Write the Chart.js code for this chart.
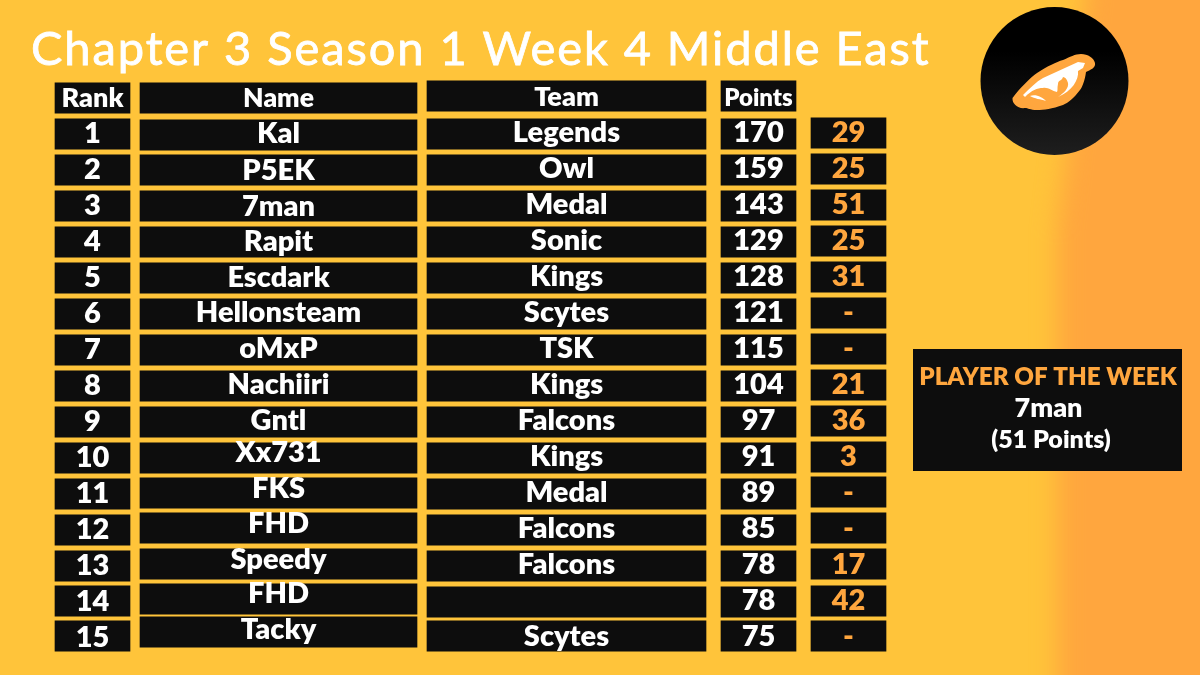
<!DOCTYPE html>
<html>
<head>
<meta charset="utf-8">
<title>Chapter 3 Season 1 Week 4 Middle East</title>
<script src="https://cdn.jsdelivr.net/npm/chart.js@4"></script>
<style>
  html, body { margin: 0; padding: 0; background: #ffc43a; }
  #wrap { width: 1200px; height: 675px; }
</style>
</head>
<body>
<div id="wrap"><canvas id="myChart" width="1200" height="675"></canvas></div>
<script>
// Table data
const titleText = "Chapter 3 Season 1 Week 4 Middle East";
const rowLabels = ["Rank", "1", "2", "3", "4", "5", "6", "7", "8", "9", "10", "11", "12", "13", "14", "15"];
const names = ["Name", "Kal", "P5EK", "7man", "Rapit", "Escdark", "Hellonsteam", "oMxP", "Nachiiri", "Gntl", "Xx731", "FKS", "FHD", "Speedy", "FHD", "Tacky"];
const teams = ["Team", "Legends", "Owl", "Medal", "Sonic", "Kings", "Scytes", "TSK", "Kings", "Falcons", "Kings", "Medal", "Falcons", "Falcons", "", "Scytes"];
const points = ["Points", "170", "159", "143", "129", "128", "121", "115", "104", "97", "91", "89", "85", "78", "78", "75"];
const weekPoints = [null, "29", "25", "51", "25", "31", "-", "-", "21", "36", "3", "-", "-", "17", "42", "-"];
const playerTitle = "PLAYER OF THE WEEK";
const playerName = "7man";
const playerPoints = "(51 Points)";

// Column extents on the x axis, and small per-row shifts of the pasted boxes
const BLACK = "#0d0d0d";
const ORANGE = "#ffa63e";
const columns = [
  { texts: rowLabels, from: 55, to: 130, color: "#fff", headSize: 27,
    boxShift: [0, 0, 0, 0, 0, 0, 0, 0, 0, 0, 0, 0, 0, 0, -1, -2],
    textShift: [0, -2, -2, -2, -2, -2, -2, -2, -2, -2, -2, -2, -2, -2, -2, -2] },
  { texts: names, from: 140, to: 417, color: "#fff", headSize: 26.5,
    boxShift: [0, 1, 0, 0, 0, 0, 0, 0, 0, 0, 0, -1, -2, -2, -3, -6],
    textShift: [0, -2, -1, -1, -2, -2, -3, -3, -3, -3, -7, -7, -8, -8, -10, -10] },
  { texts: teams, from: 427, to: 706, color: "#fff", headSize: 27,
    boxShift: [-2, 0, 0, 0, 0, 0, 0, 0, 0, 0, 0, 0, 0, 0, 0, -2],
    textShift: [-1, -3, -3, -3, -3, -3, -3, -3, -3, -3, -3, -3, -3, -3, -3, -3] },
  { texts: points, from: 721, to: 796, color: "#fff", headSize: 24,
    boxShift: [-2, 0, 0, 0, 0, 0, 0, 0, 0, 0, 0, 0, 0, 0, 0, -2],
    textShift: [-1, -3, -3, -3, -3, -3, -3, -3, -3, -3, -3, -3, -3, -3, -3, -3] },
  { texts: weekPoints, from: 811, to: 886, color: ORANGE, headSize: 24,
    boxShift: [0, -1, -1, -1, -1, -1, -1, -1, -1, -1, -1, -2, -2, -2, -1, -2],
    textShift: [0, -3, -3, -3, -3, -3, -3, -3, -3, -3, -3, -3, -3, -3, -3, -3] },
];
const FONT = '"Lato", sans-serif';

// Gradient background with the orange band on the right
const backdrop = {
  id: "backdrop",
  beforeDraw(chart) {
    const c = chart.ctx;
    c.save();
    c.fillStyle = "#ffc43a";
    c.fillRect(0, 0, 1200, 675);
    c.filter = "blur(12px)";
    c.fillStyle = ORANGE;
    c.beginPath();
    c.moveTo(1090, -40);
    c.lineTo(1260, -40);
    c.lineTo(1260, 715);
    c.lineTo(1057, 715);
    c.lineTo(1057, 230);
    c.closePath();
    c.fill();
    c.restore();
  },
};

// Move the boxes a little, they are not perfectly aligned in the original
const nudge = {
  id: "nudge",
  afterDatasetsUpdate(chart) {
    columns.forEach((col, d) => {
      chart.getDatasetMeta(d).data.forEach((bar, i) => {
        bar.y += col.boxShift[i];
      });
    });
  },
};

// Cell texts, title, player box and logo
const overlay = {
  id: "overlay",
  afterDatasetsDraw(chart) {
    const c = chart.ctx;
    const yScale = chart.scales.y;
    c.save();
    c.textAlign = "center";
    c.textBaseline = "alphabetic";

    columns.forEach((col) => {
      col.texts.forEach((text, i) => {
        if (!text) return;
        const x = (col.from + col.to) / 2;
        const y = yScale.getPixelForValue(i) + col.textShift[i];
        c.fillStyle = col.color;
        c.font = "800 " + (i === 0 ? col.headSize : 29) + "px " + FONT;
        c.fillText(text, x, y + (i === 0 ? 9 : 11));
      });
    });

    // title, regular weight thickened a bit with a thin outline
    c.textAlign = "left";
    c.fillStyle = "#fff";
    c.strokeStyle = "#fff";
    c.lineWidth = 0.8;
    c.font = "400 47px " + FONT;
    c.letterSpacing = "1.92px";
    c.fillText(titleText, 31, 65);
    c.strokeText(titleText, 31, 65);
    c.letterSpacing = "0px";

    // player of the week box
    c.fillStyle = BLACK;
    c.fillRect(913, 349, 269, 122);
    c.textAlign = "center";
    c.fillStyle = ORANGE;
    c.font = "800 24.2px " + FONT;
    c.fillText(playerTitle, 1048, 385);
    c.fillStyle = "#fff";
    c.font = "800 27px " + FONT;
    c.fillText(playerName, 1048.5, 417);
    c.font = "800 25px " + FONT;
    c.fillText(playerPoints, 1051, 448);

    drawLogo(c);
    c.restore();
  },
};

function drawLogo(c) {
  const g = c.createLinearGradient(0, 7, 0, 155);
  g.addColorStop(0.3, "#000");
  g.addColorStop(1, "#1e1e1e");
  c.fillStyle = g;
  c.beginPath();
  c.arc(1054.5, 81, 74, 0, Math.PI * 2);
  c.fill();

  // bean shape
  c.fillStyle = ORANGE;
  c.beginPath();
  c.moveTo(1012.5, 98);
  c.bezierCurveTo(1020, 88, 1030, 78, 1037, 73);
  c.bezierCurveTo(1048, 66, 1056, 62, 1063, 60);
  c.bezierCurveTo(1070, 57, 1075, 54, 1081, 54);
  c.bezierCurveTo(1088, 54, 1094, 58, 1095, 63);
  c.bezierCurveTo(1096, 68, 1090, 70, 1086, 72);
  c.bezierCurveTo(1085, 80, 1082, 88, 1080, 90);
  c.bezierCurveTo(1074, 98, 1068, 103, 1063, 105);
  c.bezierCurveTo(1052, 109, 1044, 110, 1037, 110);
  c.bezierCurveTo(1030, 110, 1028, 108, 1025, 108);
  c.bezierCurveTo(1018, 109, 1012, 104, 1012.5, 98);
  c.closePath();
  c.fill();

  // eye
  c.fillStyle = "#fff";
  c.beginPath();
  c.moveTo(1023, 95);
  c.bezierCurveTo(1030, 88, 1036, 82, 1043, 78);
  c.lineTo(1078, 62);
  c.lineTo(1085, 63);
  c.lineTo(1083, 68);
  c.lineTo(1078, 71);
  c.bezierCurveTo(1079, 80, 1072, 91, 1058, 97);
  c.bezierCurveTo(1064, 93, 1069, 88, 1068, 83);
  c.bezierCurveTo(1067, 79, 1065, 77, 1063, 77);
  c.bezierCurveTo(1062, 81, 1058, 80, 1058, 84);
  c.bezierCurveTo(1057, 88, 1058, 90, 1057, 92);
  c.bezierCurveTo(1052, 91, 1048, 87, 1043, 88);
  c.bezierCurveTo(1037, 88, 1032, 90, 1025, 97);
  c.closePath();
  c.fill();

  // small crescent under the eye
  c.beginPath();
  c.moveTo(1030, 96);
  c.bezierCurveTo(1036, 94, 1042, 97, 1046, 101);
  c.bezierCurveTo(1040, 99, 1035, 99, 1030, 96);
  c.closePath();
  c.fill();
}

const config = {
  type: "bar",
  data: {
    labels: rowLabels,
    datasets: columns.map((col) => ({
      label: col.texts[0] || "Week",
      data: col.texts.map((t) => (t === null ? null : [col.from, col.to])),
      backgroundColor: BLACK,
      barThickness: 30.5,
      grouped: false,
      borderSkipped: false,
    })),
  },
  options: {
    indexAxis: "y",
    responsive: false,
    animation: false,
    layout: { padding: { top: 80, bottom: 19, left: 0, right: 0 } },
    plugins: { legend: { display: false }, tooltip: { enabled: false } },
    scales: {
      x: { type: "linear", min: 0, max: 1200, display: false },
      y: { type: "category", display: false },
    },
  },
  plugins: [backdrop, nudge, overlay],
};

new Chart(document.getElementById("myChart").getContext("2d"), config);
</script>
</body>
</html>
